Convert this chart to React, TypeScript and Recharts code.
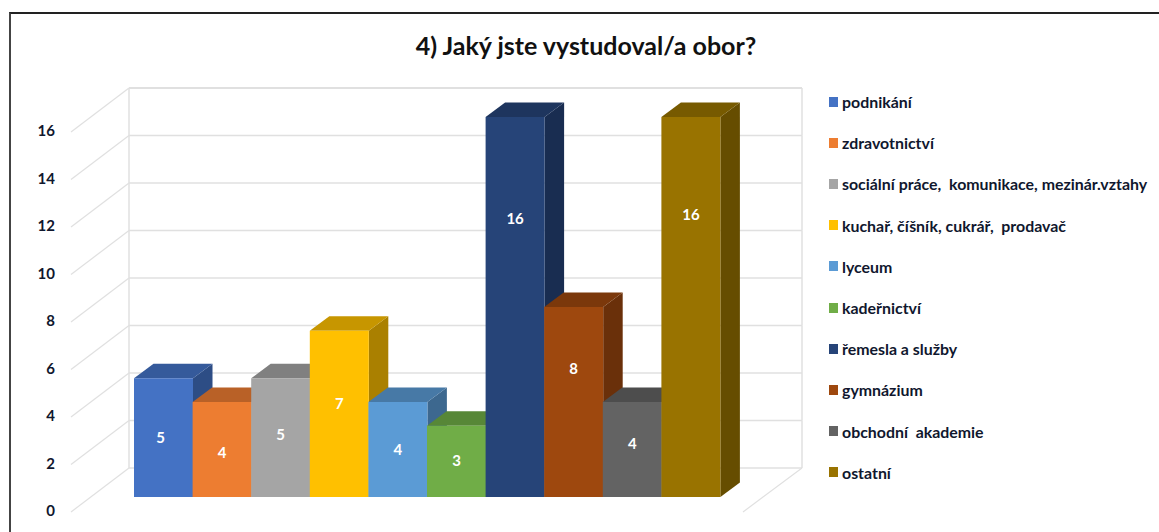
import React from 'react';
import { BarChart, Bar, XAxis, YAxis, CartesianGrid, Legend, LabelList } from 'recharts';

const TITLE = '4) Jaký jste vystudoval/a obor?';

const CATEGORIES = [
  'podnikání',
  'zdravotnictví',
  'sociální práce,  komunikace, mezinár.vztahy',
  'kuchař, číšník, cukrář,  prodavač',
  'lyceum',
  'kadeřnictví',
  'řemesla a služby',
  'gymnázium',
  'obchodní  akademie',
  'ostatní',
];
const VALUES = [5, 4, 5, 7, 4, 3, 16, 8, 4, 16];
const Y_TICKS = [0, 2, 4, 6, 8, 10, 12, 14, 16];

const FRONT_COLORS = ['#4472c4', '#ed7d31', '#a5a5a5', '#ffc000', '#5b9bd5', '#70ad47', '#264478', '#9e480e', '#636363', '#997300'];
const TOP_COLORS = ['#355a9b', '#b96127', '#808080', '#c79600', '#4779a6', '#578737', '#1e355e', '#7b380b', '#4d4d4d', '#775a00'];
const SIDE_COLORS = ['#2d4d85', '#9f5321', '#6e6e6e', '#aa8000', '#3d688f', '#4b742f', '#192d51', '#6a300a', '#424242', '#664d00'];

// the value labels in the original are not centred on the taller bars
const LABEL_SHIFT_X = [-3, 0, 0, 0, 0, 0, 0, 0, 0, 0];
const LABEL_SHIFT_Y = [0, 3, -3, -10, 0, 0, -88, -33, -6, -92];

const chartData = CATEGORIES.map((name, i) => ({ name, value: VALUES[i] }));

const WIDTH = 1159;
const HEIGHT = 532;
const PLOT = { left: 134, right: 720, top: 117, bottom: 497 };
const WALL = { left: 129, right: 802, shiftY: -29 };
const WING = { leftX: 71, rightX: 743, shiftY: 15 };
const BAR_DEPTH = { x: 19.5, y: 14.5 };
const GRID_COLOR = '#e0e0e0';
const FONT = 'Lato, "Open Sans", sans-serif';
const TEXT_COLOR = '#10172e';

// one gridline per tick: back wall line, wall verticals, and the diagonal wing on the left
const GridLine = (props: any) => {
  const y = props.y1;
  const backY = y + WALL.shiftY;
  const step = ((PLOT.bottom - PLOT.top) / (Y_TICKS.length - 1));
  const isTop = Math.abs(y - PLOT.top) < 1;
  const isBottom = Math.abs(y - PLOT.bottom) < 1;
  return (
    <g>
      <line x1={WALL.left} x2={WALL.right} y1={backY} y2={backY} stroke={GRID_COLOR} strokeWidth={isTop ? 2 : 1.5} />
      <line x1={WING.leftX} x2={WALL.left} y1={y + WING.shiftY} y2={backY} stroke={GRID_COLOR} strokeWidth={1.2} />
      {!isTop && (
        <>
          <line x1={WALL.left} x2={WALL.left} y1={backY} y2={backY - step} stroke={GRID_COLOR} strokeWidth={1.5} />
          <line x1={WALL.right} x2={WALL.right} y1={backY} y2={backY - step} stroke={GRID_COLOR} strokeWidth={1.5} />
        </>
      )}
      {isBottom && (
        <line x1={WALL.right} x2={WING.rightX} y1={backY} y2={y + WING.shiftY} stroke={GRID_COLOR} strokeWidth={1.2} />
      )}
    </g>
  );
};

const Bar3D = (props: any) => {
  const { x, y, width, height, index } = props;
  const dx = BAR_DEPTH.x;
  const dy = BAR_DEPTH.y;
  const r = x + width;
  const b = y + height;
  return (
    <g>
      <polygon points={`${r},${y} ${r + dx},${y - dy} ${r + dx},${b - dy} ${r},${b}`} fill={SIDE_COLORS[index]} />
      <polygon points={`${x},${y} ${r},${y} ${r + dx},${y - dy} ${x + dx},${y - dy}`} fill={TOP_COLORS[index]} />
      <rect x={x} y={y} width={width} height={height} fill={FRONT_COLORS[index]} />
    </g>
  );
};

const YTick = (props: any) => {
  const { y, payload } = props;
  return (
    <text x={55} y={y + 19} textAnchor="end" fontFamily={FONT} fontWeight={700} fontSize={15} fill={TEXT_COLOR}>
      {payload.value}
    </text>
  );
};

const BarValue = (props: any) => {
  const { x, y, width, height, value, index } = props;
  return (
    <text
      x={x + width / 2 + LABEL_SHIFT_X[index]}
      y={y + height / 2 + LABEL_SHIFT_Y[index] + 5}
      textAnchor="middle"
      fontFamily={FONT}
      fontWeight={700}
      fontSize={15}
      fill="#ffffff"
    >
      {value}
    </text>
  );
};

const SideLegend = () => (
  <div style={{ fontFamily: FONT, fontWeight: 700, fontSize: 15.9, color: TEXT_COLOR, whiteSpace: 'pre' }}>
    {CATEGORIES.map((name, i) => (
      <div key={name} style={{ height: 41.2, display: 'flex', alignItems: 'center' }}>
        <span style={{ width: 9, height: 10, background: FRONT_COLORS[i], marginRight: 4, flex: 'none' }} />
        <span>{name}</span>
      </div>
    ))}
  </div>
);

export default function App() {
  return (
    <div style={{ position: 'absolute', left: 0, top: 0, width: WIDTH, height: HEIGHT, overflow: 'hidden', background: '#fff' }}>
      <div style={{ position: 'absolute', left: 9, top: 12, right: -4, bottom: -4, borderTop: '2px solid #222', borderLeft: '2px solid #444' }} />
      <BarChart
        width={WIDTH}
        height={HEIGHT}
        data={chartData}
        barCategoryGap={0}
        margin={{ top: PLOT.top, right: WIDTH - PLOT.right, bottom: HEIGHT - PLOT.bottom, left: 0 }}
      >
        <text x={586} y={55} textAnchor="middle" fontFamily={FONT} fontWeight={700} fontSize={25} fill="#111">
          {TITLE}
        </text>
        <CartesianGrid vertical={false} horizontal={(p: any) => <GridLine key={p.key ?? p.index} {...p} />} />
        <XAxis dataKey="name" hide />
        <YAxis
          width={PLOT.left}
          domain={[0, 16]}
          ticks={Y_TICKS}
          interval={0}
          axisLine={false}
          tickLine={false}
          tick={YTick}
        />
        <Bar dataKey="value" shape={Bar3D} isAnimationActive={false}>
          <LabelList dataKey="value" content={BarValue} />
        </Bar>
        <Legend
          layout="vertical"
          align="center"
          verticalAlign="middle"
          content={SideLegend}
          wrapperStyle={{ position: 'absolute', left: 829, top: 81, width: 330, margin: 0 }}
        />
      </BarChart>
    </div>
  );
}
